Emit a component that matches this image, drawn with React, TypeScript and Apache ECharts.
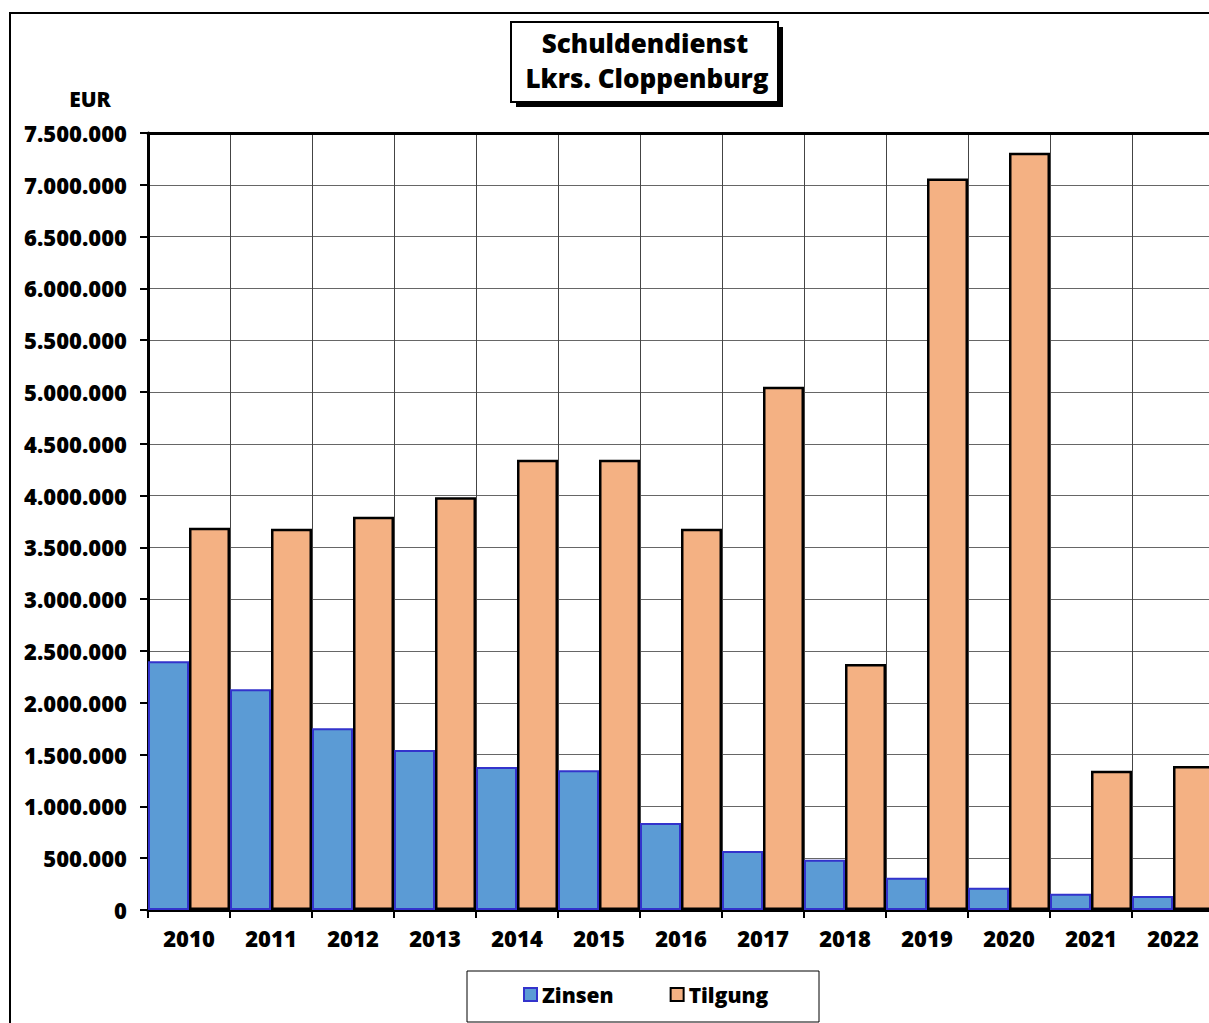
import React, { useEffect, useRef } from "react";
import * as echarts from "echarts";

const years = ["2010", "2011", "2012", "2013", "2014", "2015", "2016", "2017", "2018", "2019", "2020", "2021", "2022"];
const zinsen = [2400000, 2130000, 1755000, 1545000, 1380000, 1350000, 840000, 570000, 485000, 312000, 215000, 157000, 135000];
const tilgung = [3690000, 3680000, 3795000, 3985000, 4345000, 4345000, 3680000, 5050000, 2375000, 7060000, 7310000, 1345000, 1390000];
const titleLines = ["Schuldendienst", "Lkrs. Cloppenburg"];
const unitLabel = "EUR";

const FONT = "'Open Sans', 'Noto Sans', sans-serif";

function fmt(v: number): string {
  const s = Math.round(v).toString();
  return s.replace(/\B(?=(\d{3})+(?!\d))/g, ".");
}

export default function App() {
  const ref = useRef<HTMLDivElement>(null);
  useEffect(() => {
    if (!ref.current) return;
    const chart = echarts.init(ref.current, undefined, { renderer: "svg" });
    chart.setOption({
      animation: false,
      backgroundColor: "#ffffff",
      textStyle: { fontFamily: FONT },
      grid: { left: 148, top: 133, width: 1066, height: 777, containLabel: false },
      legend: {
        left: 523,
        top: 984,
        padding: 0,
        itemWidth: 13,
        itemHeight: 13,
        itemGap: 56,
        icon: "rect",
        textStyle: { fontSize: 21, fontWeight: 800, color: "#000", fontFamily: FONT },
        data: ["Zinsen", "Tilgung"],
      },
      xAxis: [
        {
          type: "category",
          data: years,
          position: "bottom",
          axisLine: { show: true, lineStyle: { color: "#000", width: 3 } },
          axisTick: { show: true, alignWithLabel: false, length: 8, lineStyle: { color: "#000", width: 2 } },
          axisLabel: { color: "#000", fontSize: 22, fontWeight: 800, margin: 17, fontFamily: FONT },
          splitLine: { show: true, lineStyle: { color: "#444", width: 1 } },
        },
        {
          type: "category",
          data: years,
          position: "top",
          axisLine: { show: true, lineStyle: { color: "#000", width: 3 } },
          axisTick: { show: false },
          axisLabel: { show: false },
          splitLine: { show: false },
        },
      ],
      yAxis: {
        type: "value",
        min: 0,
        max: 7500000,
        interval: 500000,
        axisLine: { show: true, lineStyle: { color: "#000", width: 3 } },
        axisTick: { show: true, length: 8, lineStyle: { color: "#000", width: 2 } },
        axisLabel: {
          color: "#000",
          fontSize: 22,
          fontWeight: 800,
          margin: 21,
          fontFamily: FONT,
          formatter: (v: number) => fmt(v),
        },
        splitLine: { show: true, lineStyle: { color: "#666", width: 1 } },
      },
      series: [
        {
          name: "Zinsen",
          type: "bar",
          data: zinsen,
          barGap: "0%",
          barCategoryGap: "0%",
          itemStyle: { color: "#5b9bd5", borderColor: "#3333cc", borderWidth: 2 },
        },
        {
          name: "Tilgung",
          type: "bar",
          data: tilgung,
          barGap: "0%",
          barCategoryGap: "0%",
          itemStyle: { color: "#f4b183", borderColor: "#000", borderWidth: 2.5 },
        },
      ],
      graphic: [
        {
          type: "rect",
          z: 0,
          silent: true,
          shape: { x: 10, y: 13, width: 1400, height: 1200 },
          style: { fill: "none", stroke: "#000", lineWidth: 2 },
        },
        {
          type: "rect",
          z: 10,
          shape: { x: 516, y: 27, width: 267, height: 80 },
          style: { fill: "#000" },
        },
        {
          type: "rect",
          z: 11,
          shape: { x: 511, y: 22, width: 267, height: 80 },
          style: { fill: "#fff", stroke: "#000", lineWidth: 2 },
        },
        {
          type: "text",
          z: 12,
          x: 645,
          y: 43,
          style: {
            text: titleLines[0],
            font: `800 26px ${FONT}`,
            fill: "#000",
            textAlign: "center",
            textVerticalAlign: "middle",
          },
        },
        {
          type: "text",
          z: 12,
          x: 647,
          y: 78,
          style: {
            text: titleLines[1],
            font: `800 26px ${FONT}`,
            fill: "#000",
            textAlign: "center",
            textVerticalAlign: "middle",
          },
        },
        {
          type: "text",
          z: 12,
          x: 90,
          y: 99,
          style: {
            text: unitLabel,
            font: `800 21px ${FONT}`,
            fill: "#000",
            textAlign: "center",
            textVerticalAlign: "middle",
          },
        },
        {
          type: "rect",
          z: 1,
          shape: { x: 467, y: 971, width: 352, height: 51 },
          style: { fill: "#fff", stroke: "#000", lineWidth: 1 },
        },
      ],
    });
    return () => chart.dispose();
  }, []);
  return (
    <div style={{ position: "fixed", left: 0, top: 0, width: 1209, height: 1023, overflow: "hidden" }}>
      <div ref={ref} style={{ position: "absolute", left: 0, top: 0, width: 1230, height: 1023 }} />
    </div>
  );
}
